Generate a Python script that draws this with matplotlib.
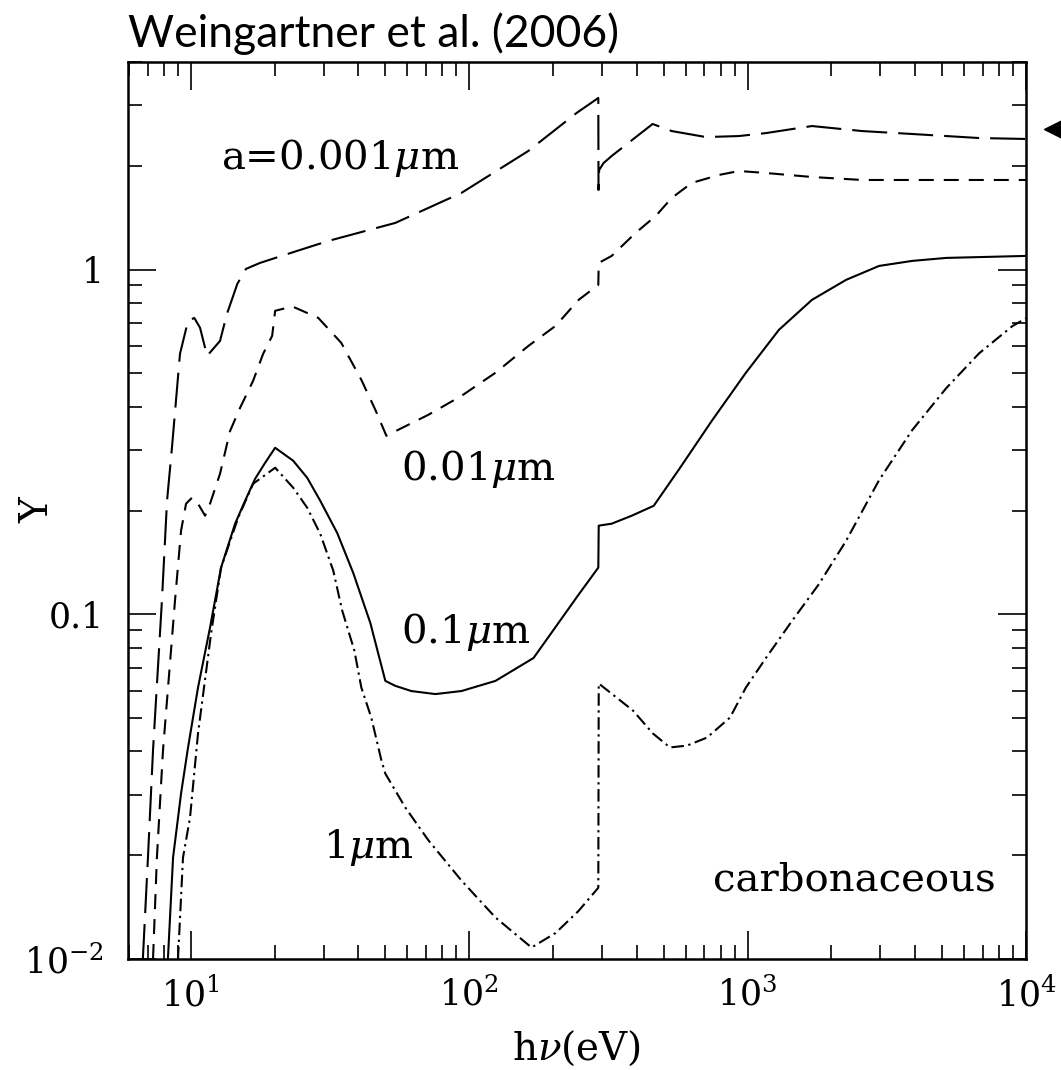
import numpy as np
import matplotlib.pyplot as plt
from matplotlib.ticker import FixedLocator, FixedFormatter, LogLocator, NullFormatter

plt.rcParams['mathtext.fontset'] = 'dejavuserif'
plt.rcParams['font.family'] = ['DejaVu Serif']

# a = 0.001 micron (long dashes)
e1 = [6.73, 7.02, 7.32, 7.88, 8.22, 8.56, 9.15, 9.78, 10.3, 10.8, 11.45, 12.74, 13.5, 14.7,
      15.8, 17.75, 24.1, 31.2, 54.3, 93.8, 163, 243, 291, 291.5, 293, 304, 325, 456, 534,
      708, 930, 1164, 1703, 2578, 3900, 6792, 10000]
y1 = [0.0100, 0.0197, 0.0403, 0.1096, 0.2136, 0.304, 0.570, 0.710, 0.724, 0.678, 0.562,
      0.621, 0.745, 0.909, 1.005, 1.046, 1.133, 1.211, 1.366, 1.669, 2.208, 2.846, 3.147,
      1.702, 1.945, 2.038, 2.136, 2.645, 2.523, 2.424, 2.440, 2.489, 2.609, 2.523, 2.474,
      2.408, 2.393]

# a = 0.01 micron (short dashes)
e2 = [7.32, 7.56, 7.95, 8.78, 9.23, 9.62, 10.11, 10.62, 11.26, 11.73, 12.74, 13.85, 15.04,
      16.75, 18.2, 19.61, 20.1, 21.48, 23.33, 28.71, 34.72, 40.99, 46.03, 50.42, 55.68,
      71.39, 93.83, 124.3, 163.4, 204.4, 247.3, 291, 292, 325, 396, 468, 534, 630, 789,
      931, 1164, 1703, 2578, 10000]
y2 = [0.0100, 0.0197, 0.0403, 0.1096, 0.1748, 0.2094, 0.218, 0.2094, 0.1932, 0.2094,
      0.2557, 0.3406, 0.3973, 0.4758, 0.5698, 0.6426, 0.7595, 0.7697, 0.7800, 0.7244,
      0.6131, 0.4790, 0.3920, 0.3296, 0.3431, 0.3792, 0.4302, 0.5020, 0.6010, 0.6868,
      0.8169, 0.9030, 1.0457, 1.0957, 1.2776, 1.4310, 1.6138, 1.7838, 1.8817, 1.9322,
      1.9065, 1.8563, 1.8197, 1.8197]

# a = 0.1 micron (solid)
e3 = [8.28, 8.64, 9.23, 9.78, 10.62, 11.73, 12.85, 14.43, 15.68, 17.03, 18.51, 20.1, 23.33,
      26.2, 29.18, 33.6, 38.36, 44.16, 50.0, 54.33, 62.01, 75.63, 93.83, 124.3, 170.3,
      247.3, 291, 292, 325, 383.6, 460.3, 566, 744, 986, 1296, 1703, 2257, 2967, 3900,
      5168, 10000]
y3 = [0.0100, 0.0197, 0.0302, 0.0411, 0.0613, 0.0915, 0.1366, 0.1832, 0.2136, 0.2473,
      0.2753, 0.3042, 0.2790, 0.2489, 0.2136, 0.1720, 0.1317, 0.0944, 0.0641, 0.0620,
      0.0599, 0.0587, 0.0599, 0.0641, 0.0747, 0.1141, 0.1366, 0.1808, 0.1832, 0.1932,
      0.2065, 0.2627, 0.3642, 0.5020, 0.6687, 0.8169, 0.9335, 1.0249, 1.0598, 1.0812,
      1.0957]

# a = 1 micron (dash-dot)
e4 = [9.0, 9.38, 9.94, 10.62, 11.83, 12.85, 14.8, 16.75, 20.1, 23.33, 26.2, 29.18, 32.5,
      35.0, 38.7, 41.0, 44.5, 48.4, 50.0, 59.0, 71.4, 93.8, 124.3, 167.5, 204.4, 247.3,
      291, 292, 387.5, 457.3, 526.2, 605.9, 715.1, 865, 986, 1164, 1443, 1805, 2257, 2967,
      3900, 5168, 6792, 8927, 10000]
y4 = [0.0100, 0.0197, 0.0257, 0.0451, 0.0879, 0.1366, 0.1906, 0.2392, 0.2662, 0.2330,
      0.2038, 0.1713, 0.1339, 0.1025, 0.0785, 0.0613, 0.0502, 0.0377, 0.0345, 0.0275,
      0.0221, 0.0169, 0.0132, 0.0108, 0.0119, 0.0138, 0.0161, 0.0630, 0.0526, 0.0451,
      0.0411, 0.0416, 0.0439, 0.0502, 0.0613, 0.0747, 0.0956, 0.1224, 0.1632, 0.2450,
      0.3421, 0.4528, 0.5720, 0.6851, 0.7226]

xticks = [10, 100, 1000, 10000]
xlabels = [r'$10^{1}$', r'$10^{2}$', r'$10^{3}$', r'$10^{4}$']
yticks = [0.01, 0.1, 1]
ylabels = [r'$10^{-2}$', '0.1', '1']

fig = plt.figure(figsize=(10.61, 10.70), dpi=100)
ax = fig.add_axes([0.1206, 0.1037, 0.8464, 0.8383])
ax.set_xscale('log')
ax.set_yscale('log')

lw = 1.5
ax.plot(e1, y1, color='black', lw=lw, dashes=(16.8, 5.3))
ax.plot(e2, y2, color='black', lw=lw, dashes=(7.2, 4.8))
ax.plot(e3, y3, color='black', lw=lw)
ax.plot(e4, y4, color='black', lw=lw, dashes=(6, 2.2, 1.1, 2.2))

# pointer outside the right edge
ax.plot([12500], [2.56], marker='<', ms=13, color='black', clip_on=False)

ax.set_xlim(5.95, 10000)
ax.set_ylim(0.01, 4.0)

ax.xaxis.set_major_locator(FixedLocator(xticks))
ax.xaxis.set_major_formatter(FixedFormatter(xlabels))
ax.xaxis.set_minor_locator(LogLocator(base=10, subs=np.arange(2, 10)))
ax.xaxis.set_minor_formatter(NullFormatter())
ax.yaxis.set_major_locator(FixedLocator(yticks))
ax.yaxis.set_major_formatter(FixedFormatter(ylabels))
ax.yaxis.set_minor_locator(LogLocator(base=10, subs=np.arange(2, 10)))
ax.yaxis.set_minor_formatter(NullFormatter())

ax.tick_params(which='both', direction='in', top=True, right=True, width=1.2, colors='black')
ax.tick_params(which='major', length=20)
ax.tick_params(which='minor', length=10)
ax.tick_params(axis='x', which='major', labelsize=25, pad=13)
ax.tick_params(axis='y', which='major', labelsize=25, pad=17)
for s in ax.spines.values():
    s.set_linewidth(1.8)

ax.set_xlabel(r'h$\nu$(eV)', fontsize=28)
ax.xaxis.set_label_coords(0.5, -0.078)
ax.set_ylabel('Y', fontsize=28)
ax.yaxis.set_label_coords(-0.080, 0.5)

ax.set_title('Weingartner et al. (2006)', loc='left', fontsize=32, family='Lato', pad=11)

fs = 29
ax.text(12.85, 1.958, r'a=0.001$\mu$m', fontsize=fs, va='baseline')
ax.text(57.1, 0.2457, r'0.01$\mu$m', fontsize=fs, va='baseline')
ax.text(57.1, 0.0823, r'0.1$\mu$m', fontsize=fs, va='baseline')
ax.text(29.9, 0.0197, r'1$\mu$m', fontsize=fs, va='baseline')
ax.text(7800, 0.0158, 'carbonaceous', fontsize=fs, va='baseline', ha='right')

fig.savefig('out.png', dpi=100)
